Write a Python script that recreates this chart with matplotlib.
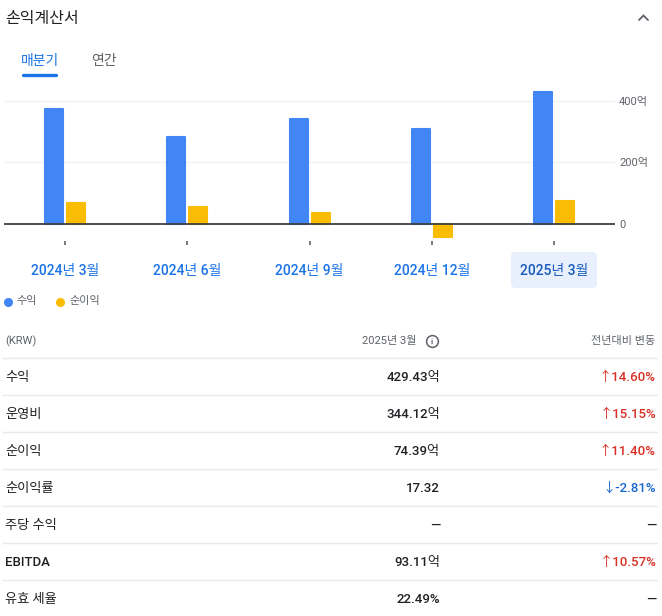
import matplotlib
matplotlib.use("Agg")
import matplotlib.pyplot as plt
import numpy as np
from matplotlib.lines import Line2D
from matplotlib.patches import FancyBboxPatch
import matplotlib.transforms as mtransforms

plt.rcParams['font.family'] = ['Roboto', 'Noto Sans CJK KR', 'DejaVu Sans']

# ---------------- data ----------------
quarters = ['2024년 3월', '2024년 6월', '2024년 9월', '2024년 12월', '2025년 3월']
revenue = [373, 283, 341, 309, 429.43]       # 억 KRW
net_income = [67, 55, 37, -41, 74.39]        # 억 KRW
y_ticks = [0, 200, 400]
y_tick_labels = ['0', '200억', '400억']
series_names = ['수익', '순이익']

row_labels = ['수익', '운영비', '순이익', '순이익률', '주당 수익', 'EBITDA', '유효 세율']
row_values = ['429.43억', '344.12억', '74.39억', '17.32', '—', '93.11억', '22.49%']
row_changes = ['↑14.60%', '↑15.15%', '↑11.40%', '↓-2.81%', '—', '↑10.57%', '—']

# ---------------- style ----------------
W, H = 662, 616
BLUE = '#4285f4'
YELLOW = '#fbbc04'
TXT = '#202124'
GRAY = '#5f6368'
LINK = '#1a73e8'
RED = '#d93025'
DOWN = '#1967d2'
SEP = '#e8eaed'

fig = plt.figure(figsize=(W / 100, H / 100), dpi=100)
fig.patch.set_facecolor('white')


def fx(x):
    return x / W


def fy(y):
    return 1 - y / H


# ---------------- header ----------------
fig.text(fx(5), fy(18.5), '손익계산서', fontsize=11.5, color=TXT, va='center', ha='left')
fig.add_artist(Line2D([fx(639), fx(643.5), fx(648)], [fy(20), fy(15.5), fy(20)],
                      color='#5f6368', lw=1.3, transform=fig.transFigure,
                      solid_capstyle='round', solid_joinstyle='miter'))

fig.text(fx(21), fy(61), '매분기', fontsize=10, color=LINK, va='center', ha='left',
         fontweight='medium')
fig.text(fx(91), fy(61), '연간', fontsize=10, color=GRAY, va='center', ha='left')
fig.add_artist(Line2D([fx(23), fx(56)], [fy(75), fy(75)], color=LINK, lw=2.4,
                      transform=fig.transFigure, solid_capstyle='round'))

# ---------------- chart ----------------
ax_left, ax_right, ax_top, ax_bot = 4, 615, 88, 241
ax = fig.add_axes([fx(ax_left), fy(ax_bot), fx(ax_right - ax_left), (ax_bot - ax_top) / H])
px_per_unit = (224 - 100.7) / 400.0
ax.set_ylim(-(ax_bot - 224) / px_per_unit, (224 - ax_top) / px_per_unit)
ax.set_xlim(-0.5, len(quarters) - 0.5)

x = np.arange(len(quarters))
cat_px = (ax_right - ax_left) / len(quarters)
bw = 18 / cat_px
off = 11 / cat_px

for v in y_ticks[1:]:
    ax.axhline(v, color='#f1f3f4', lw=1, zorder=0)

ax.bar(x - off, revenue, width=bw, color=BLUE, edgecolor=BLUE, linewidth=1.5,
       joinstyle='round', zorder=2)
ax.bar(x + off, net_income, width=bw, color=YELLOW, edgecolor=YELLOW, linewidth=1.5,
       joinstyle='round', zorder=2)
ax.axhline(0, color='#3c4043', lw=1.3, zorder=3)

for s in ax.spines.values():
    s.set_visible(False)
ax.set_facecolor('none')

ax.yaxis.tick_right()
ax.set_yticks(y_ticks)
ax.set_yticklabels(y_tick_labels)
ax.tick_params(axis='y', length=0, pad=3, labelsize=8, labelcolor=GRAY)
for lab in ax.get_yticklabels():
    lab.set_horizontalalignment('left')

ax.set_xticks(x)
ax.set_xticklabels([''] * len(quarters))
ax.tick_params(axis='x', direction='out', length=3.2, width=1.2, color='#5f6368', pad=0)

# x labels (data x, figure y)
btrans = mtransforms.blended_transform_factory(ax.transData, fig.transFigure)
hb = FancyBboxPatch((fx(511), fy(288)), fx(86), (288 - 252) / H,
                    boxstyle='round,pad=0,rounding_size=0.007',
                    mutation_aspect=W / H,
                    transform=fig.transFigure, facecolor='#e8f0fe', edgecolor='none',
                    zorder=0)
fig.add_artist(hb)
for i, q in enumerate(quarters):
    col = '#185abc' if i == len(quarters) - 1 else LINK
    ax.text(x[i], fy(270.5), q, transform=btrans, ha='center', va='center',
            fontsize=10, color=col, fontweight='medium', clip_on=False)

# legend
for (cx, tx), name, col in zip([(8, 16), (60, 69)], series_names, [BLUE, YELLOW]):
    fig.add_artist(Line2D([fx(cx)], [fy(301.5)], marker='o', markersize=5.5,
                          color=col, transform=fig.transFigure, lw=0))
    fig.text(fx(tx), fy(301), name, fontsize=8, color=GRAY, va='center', ha='left')

# ---------------- table ----------------
fig.text(fx(5), fy(341), '(KRW)', fontsize=8, color=GRAY, va='center', ha='left')
fig.text(fx(417), fy(341), '2025년 3월', fontsize=8, color=GRAY, va='center', ha='right')
fig.add_artist(Line2D([fx(431.5)], [fy(341)], marker='o', markersize=8.5,
                      markerfacecolor='none', markeredgecolor=GRAY, markeredgewidth=1.1,
                      transform=fig.transFigure, lw=0))
fig.text(fx(431.5), fy(341.5), 'i', fontsize=6, color=GRAY, va='center', ha='center',
         fontweight='bold')
fig.text(fx(655), fy(341), '전년대비 변동', fontsize=8, color=GRAY, va='center', ha='right')

sep_y = [358, 395, 432, 469, 506, 543, 580]
for yy in sep_y:
    fig.add_artist(Line2D([fx(3), fx(657)], [fy(yy), fy(yy)], color=SEP, lw=1,
                          transform=fig.transFigure))

for i, (lab, val, chg) in enumerate(zip(row_labels, row_values, row_changes)):
    yy = 377.3 + 37 * i
    fig.text(fx(5), fy(yy), lab, fontsize=9.5, color=TXT, va='center', ha='left',
             fontweight='medium')
    fig.text(fx(440), fy(yy), val, fontsize=9.5, color=TXT, va='center', ha='right',
             fontweight='medium')
    if chg.startswith('↑'):
        ccol = RED
    elif chg.startswith('↓'):
        ccol = DOWN
    else:
        ccol = TXT
    fig.text(fx(656), fy(yy), chg, fontsize=9.5, color=ccol, va='center', ha='right',
             fontweight='medium')

fig.savefig('out.png', dpi=100, facecolor='white')
